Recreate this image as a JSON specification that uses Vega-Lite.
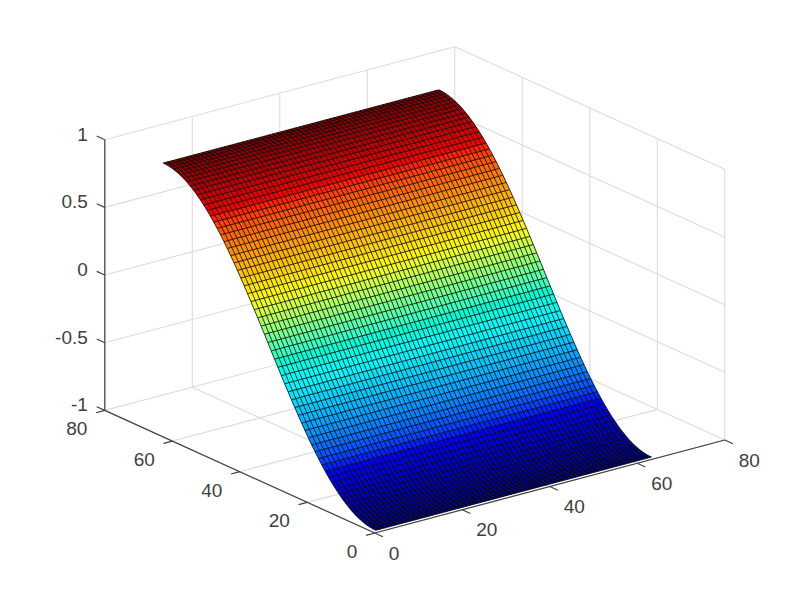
{"$schema":"https://vega.github.io/schema/vega-lite/v6.json","width":800,"height":600,"padding":0,"autosize":"none","background":"white","config":{"view":{"stroke":null}},
"datasets":{
"profile":[{"y":1,"z":-1},{"y":2,"z":-0.999},{"y":3,"z":-0.995},{"y":4,"z":-0.989},{"y":5,"z":-0.98},{"y":6,"z":-0.969},{"y":7,"z":-0.956},{"y":8,"z":-0.94},{"y":9,"z":-0.921},{"y":10,"z":-0.901},{"y":11,"z":-0.878},{"y":12,"z":-0.853},{"y":13,"z":-0.826},{"y":14,"z":-0.797},{"y":15,"z":-0.766},{"y":16,"z":-0.733},{"y":17,"z":-0.698},{"y":18,"z":-0.662},{"y":19,"z":-0.623},{"y":20,"z":-0.584},{"y":21,"z":-0.542},{"y":22,"z":-0.5},{"y":23,"z":-0.456},{"y":24,"z":-0.411},{"y":25,"z":-0.365},{"y":26,"z":-0.318},{"y":27,"z":-0.271},{"y":28,"z":-0.223},{"y":29,"z":-0.174},{"y":30,"z":-0.124},{"y":31,"z":-0.075},{"y":32,"z":-0.025},{"y":33,"z":0.025},{"y":34,"z":0.075},{"y":35,"z":0.124},{"y":36,"z":0.174},{"y":37,"z":0.223},{"y":38,"z":0.271},{"y":39,"z":0.318},{"y":40,"z":0.365},{"y":41,"z":0.411},{"y":42,"z":0.456},{"y":43,"z":0.5},{"y":44,"z":0.542},{"y":45,"z":0.584},{"y":46,"z":0.623},{"y":47,"z":0.662},{"y":48,"z":0.698},{"y":49,"z":0.733},{"y":50,"z":0.766},{"y":51,"z":0.797},{"y":52,"z":0.826},{"y":53,"z":0.853},{"y":54,"z":0.878},{"y":55,"z":0.901},{"y":56,"z":0.921},{"y":57,"z":0.94},{"y":58,"z":0.956},{"y":59,"z":0.969},{"y":60,"z":0.98},{"y":61,"z":0.989},{"y":62,"z":0.995},{"y":63,"z":0.999},{"y":64,"z":1}],
"grid":[{"a":0,"b":0,"c":-1,"a2":0,"b2":80,"c2":-1},{"a":20,"b":0,"c":-1,"a2":20,"b2":80,"c2":-1},{"a":40,"b":0,"c":-1,"a2":40,"b2":80,"c2":-1},{"a":60,"b":0,"c":-1,"a2":60,"b2":80,"c2":-1},{"a":80,"b":0,"c":-1,"a2":80,"b2":80,"c2":-1},
{"a":0,"b":0,"c":-1,"a2":80,"b2":0,"c2":-1},{"a":0,"b":20,"c":-1,"a2":80,"b2":20,"c2":-1},{"a":0,"b":40,"c":-1,"a2":80,"b2":40,"c2":-1},{"a":0,"b":60,"c":-1,"a2":80,"b2":60,"c2":-1},{"a":0,"b":80,"c":-1,"a2":80,"b2":80,"c2":-1},
{"a":80,"b":0,"c":-1,"a2":80,"b2":0,"c2":1},{"a":80,"b":20,"c":-1,"a2":80,"b2":20,"c2":1},{"a":80,"b":40,"c":-1,"a2":80,"b2":40,"c2":1},{"a":80,"b":60,"c":-1,"a2":80,"b2":60,"c2":1},{"a":80,"b":80,"c":-1,"a2":80,"b2":80,"c2":1},
{"a":0,"b":80,"c":-1,"a2":0,"b2":80,"c2":1},{"a":20,"b":80,"c":-1,"a2":20,"b2":80,"c2":1},{"a":40,"b":80,"c":-1,"a2":40,"b2":80,"c2":1},{"a":60,"b":80,"c":-1,"a2":60,"b2":80,"c2":1},
{"a":80,"b":0,"c":-0.5,"a2":80,"b2":80,"c2":-0.5},{"a":80,"b":0,"c":0,"a2":80,"b2":80,"c2":0},{"a":80,"b":0,"c":0.5,"a2":80,"b2":80,"c2":0.5},{"a":80,"b":0,"c":1,"a2":80,"b2":80,"c2":1},
{"a":0,"b":80,"c":-0.5,"a2":80,"b2":80,"c2":-0.5},{"a":0,"b":80,"c":0,"a2":80,"b2":80,"c2":0},{"a":0,"b":80,"c":0.5,"a2":80,"b2":80,"c2":0.5},{"a":0,"b":80,"c":1,"a2":80,"b2":80,"c2":1}],
"axes":[{"a":0,"b":0,"c":-1,"a2":80,"b2":0,"c2":-1},{"a":0,"b":0,"c":-1,"a2":0,"b2":80,"c2":-1},{"a":0,"b":80,"c":-1,"a2":0,"b2":80,"c2":1},
{"a":0,"b":0,"c":-1,"a2":0,"b2":-2.4,"c2":-1},{"a":20,"b":0,"c":-1,"a2":20,"b2":-2.4,"c2":-1},{"a":40,"b":0,"c":-1,"a2":40,"b2":-2.4,"c2":-1},{"a":60,"b":0,"c":-1,"a2":60,"b2":-2.4,"c2":-1},{"a":80,"b":0,"c":-1,"a2":80,"b2":-2.4,"c2":-1},
{"a":0,"b":0,"c":-1,"a2":-2,"b2":0,"c2":-1},{"a":0,"b":20,"c":-1,"a2":-2,"b2":20,"c2":-1},{"a":0,"b":40,"c":-1,"a2":-2,"b2":40,"c2":-1},{"a":0,"b":60,"c":-1,"a2":-2,"b2":60,"c2":-1},{"a":0,"b":80,"c":-1,"a2":-2,"b2":80,"c2":-1},
{"a":0,"b":80,"c":-1,"a2":0,"b2":82.4,"c2":-1},{"a":0,"b":80,"c":-0.5,"a2":0,"b2":82.4,"c2":-0.5},{"a":0,"b":80,"c":0,"a2":0,"b2":82.4,"c2":0},{"a":0,"b":80,"c":0.5,"a2":0,"b2":82.4,"c2":0.5},{"a":0,"b":80,"c":1,"a2":0,"b2":82.4,"c2":1}]
},
"layer":[
{"data":{"name":"grid"},"transform":[{"calculate":"374.8+4.375*datum.a-3.375*datum.b","as":"h"},{"calculate":"533-1.1625*datum.a-1.5325*datum.b-135.35*(datum.c+1)","as":"v"},{"calculate":"374.8+4.375*datum.a2-3.375*datum.b2","as":"h2"},{"calculate":"533-1.1625*datum.a2-1.5325*datum.b2-135.35*(datum.c2+1)","as":"v2"}],
"mark":{"type":"rule","stroke":"#dcdcdc","strokeWidth":1.1},
"encoding":{"x":{"field":"h","type":"quantitative","scale":{"domain":[0,800],"nice":false,"zero":false},"axis":null},"y":{"field":"v","type":"quantitative","scale":{"domain":[600,0],"nice":false,"zero":false},"axis":null},"x2":{"field":"h2"},"y2":{"field":"v2"}}},
{"data":{"name":"axes"},"transform":[{"calculate":"374.8+4.375*datum.a-3.375*datum.b","as":"h"},{"calculate":"533-1.1625*datum.a-1.5325*datum.b-135.35*(datum.c+1)","as":"v"},{"calculate":"374.8+4.375*datum.a2-3.375*datum.b2","as":"h2"},{"calculate":"533-1.1625*datum.a2-1.5325*datum.b2-135.35*(datum.c2+1)","as":"v2"}],
"mark":{"type":"rule","stroke":"#404040","strokeWidth":1.2},
"encoding":{"x":{"field":"h","type":"quantitative","scale":{"domain":[0,800],"nice":false,"zero":false},"axis":null},"y":{"field":"v","type":"quantitative","scale":{"domain":[600,0],"nice":false,"zero":false},"axis":null},"x2":{"field":"h2"},"y2":{"field":"v2"}}},
{"data":{"name":"profile"},"transform":[{"window":[{"op":"lead","field":"z","as":"z2"},{"op":"lead","field":"y","as":"y2"}],"sort":[{"field":"y","order":"ascending"}]},{"filter":"datum.y2!=null"},{"calculate":"[0,1,2,3]","as":"k"},{"flatten":["k"]},{"calculate":"(datum.k==1||datum.k==2)?64:1","as":"pa"},{"calculate":"datum.k<2?datum.y:datum.y2","as":"pb"},{"calculate":"datum.k<2?datum.z:datum.z2","as":"pc"},{"calculate":"374.8+4.375*datum.pa-3.375*datum.pb","as":"h"},{"calculate":"533-1.1625*datum.pa-1.5325*datum.pb-135.35*(datum.pc+1)","as":"v"}],
"mark":{"type":"line","filled":true,"strokeWidth":0,"interpolate":"linear"},
"encoding":{"x":{"field":"h","type":"quantitative","scale":{"domain":[0,800],"nice":false,"zero":false},"axis":null},"y":{"field":"v","type":"quantitative","scale":{"domain":[600,0],"nice":false,"zero":false},"axis":null},"order":{"field":"k"},"detail":{"field":"y"},"color":{"field":"z","type":"quantitative","legend":null,"scale":{"domain":[-1,-0.75,-0.25,0.25,0.75,1],"range":["#000080","#0000ff","#00ffff","#ffff00","#ff0000","#800000"]}}}},
{"data":{"name":"profile"},"transform":[{"calculate":"[1,64]","as":"pa"},{"flatten":["pa"]},{"calculate":"374.8+4.375*datum.pa-3.375*datum.y","as":"h"},{"calculate":"533-1.1625*datum.pa-1.5325*datum.y-135.35*(datum.z+1)","as":"v"}],
"mark":{"type":"line","stroke":"#000000","strokeWidth":1,"strokeOpacity":0.8},
"encoding":{"x":{"field":"h","type":"quantitative","scale":{"domain":[0,800],"nice":false,"zero":false},"axis":null},"y":{"field":"v","type":"quantitative","scale":{"domain":[600,0],"nice":false,"zero":false},"axis":null},"order":{"field":"pa"},"detail":{"field":"y"}}},
{"data":{"name":"profile"},"transform":[{"calculate":"[1,2,3,4,5,6,7,8,9,10,11,12,13,14,15,16,17,18,19,20,21,22,23,24,25,26,27,28,29,30,31,32,33,34,35,36,37,38,39,40,41,42,43,44,45,46,47,48,49,50,51,52,53,54,55,56,57,58,59,60,61,62,63,64]","as":"pa"},{"flatten":["pa"]},{"calculate":"374.8+4.375*datum.pa-3.375*datum.y","as":"h"},{"calculate":"533-1.1625*datum.pa-1.5325*datum.y-135.35*(datum.z+1)","as":"v"}],
"mark":{"type":"line","stroke":"#000000","strokeWidth":1,"strokeOpacity":0.8},
"encoding":{"x":{"field":"h","type":"quantitative","scale":{"domain":[0,800],"nice":false,"zero":false},"axis":null},"y":{"field":"v","type":"quantitative","scale":{"domain":[600,0],"nice":false,"zero":false},"axis":null},"order":{"field":"y"},"detail":{"field":"pa"}}},
{"data":{"values":[{"t":"0","a":0},{"t":"20","a":20},{"t":"40","a":40},{"t":"60","a":60},{"t":"80","a":80}]},"transform":[{"calculate":"374.8+4.375*datum.a","as":"h"},{"calculate":"533-1.1625*datum.a","as":"v"}],
"mark":{"type":"text","align":"left","baseline":"middle","dx":14,"dy":20.5,"font":"Liberation Sans","fontSize":19,"fill":"#404040"},
"encoding":{"x":{"field":"h","type":"quantitative","scale":{"domain":[0,800],"nice":false,"zero":false},"axis":null},"y":{"field":"v","type":"quantitative","scale":{"domain":[600,0],"nice":false,"zero":false},"axis":null},"text":{"field":"t"}}},
{"data":{"values":[{"t":"0","b":0},{"t":"20","b":20},{"t":"40","b":40},{"t":"60","b":60},{"t":"80","b":80}]},"transform":[{"calculate":"374.8-3.375*datum.b","as":"h"},{"calculate":"533-1.5325*datum.b","as":"v"}],
"mark":{"type":"text","align":"right","baseline":"middle","dx":-17.5,"dy":19,"font":"Liberation Sans","fontSize":19,"fill":"#404040"},
"encoding":{"x":{"field":"h","type":"quantitative","scale":{"domain":[0,800],"nice":false,"zero":false},"axis":null},"y":{"field":"v","type":"quantitative","scale":{"domain":[600,0],"nice":false,"zero":false},"axis":null},"text":{"field":"t"}}},
{"data":{"values":[{"t":"-1","c":-1},{"t":"-0.5","c":-0.5},{"t":"0","c":0},{"t":"0.5","c":0.5},{"t":"1","c":1}]},"transform":[{"calculate":"374.8-3.375*80","as":"h"},{"calculate":"533-1.5325*80-135.35*(datum.c+1)","as":"v"}],
"mark":{"type":"text","align":"right","baseline":"middle","dx":-17,"dy":-5,"font":"Liberation Sans","fontSize":19,"fill":"#404040"},
"encoding":{"x":{"field":"h","type":"quantitative","scale":{"domain":[0,800],"nice":false,"zero":false},"axis":null},"y":{"field":"v","type":"quantitative","scale":{"domain":[600,0],"nice":false,"zero":false},"axis":null},"text":{"field":"t"}}}
]}
